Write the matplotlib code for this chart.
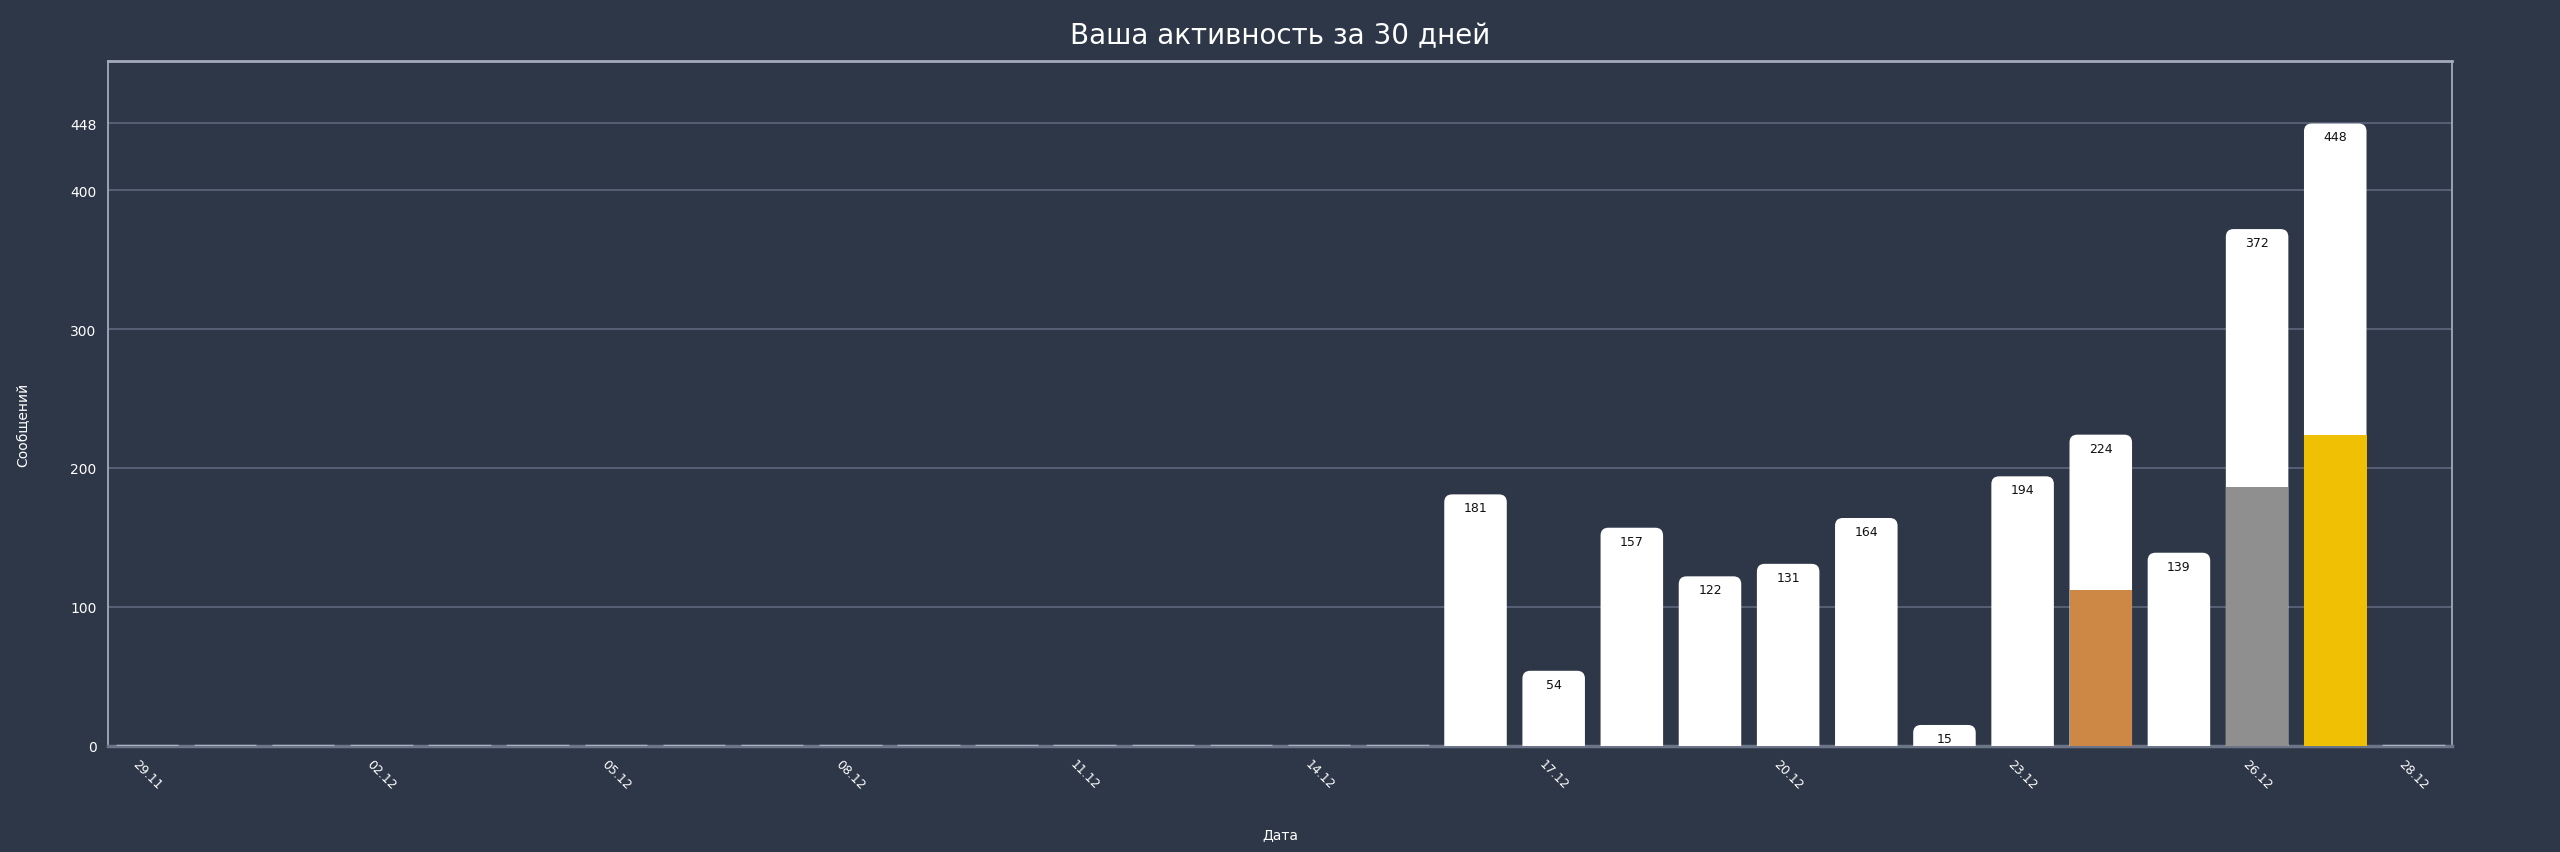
import matplotlib
matplotlib.use('Agg')
import matplotlib.pyplot as plt
from matplotlib.patches import FancyBboxPatch
import numpy as np

# Данные за 30 дней
dates = ['29.11', '30.11', '01.12', '02.12', '03.12', '04.12', '05.12', '06.12',
         '07.12', '08.12', '09.12', '10.12', '11.12', '12.12', '13.12', '14.12',
         '15.12', '16.12', '17.12', '18.12', '19.12', '20.12', '21.12', '22.12',
         '23.12', '24.12', '25.12', '26.12', '27.12', '28.12']
messages = [0, 0, 0, 0, 0, 0, 0, 0, 0, 0, 0, 0, 0, 0, 0, 0, 0,
            181, 54, 157, 122, 131, 164, 15, 194, 224, 139, 372, 448, 0]
tick_idx = [0, 3, 6, 9, 12, 15, 18, 21, 24, 27, 29]
yticks = [0, 100, 200, 300, 400, 448]

bg = '#2e3748'
frame = '#a3abbb'
grid_c = '#5d677b'
medal_colors = {1: '#efc004', 2: '#8f8f8f', 3: '#cc8844'}

fig = plt.figure(figsize=(25.6, 8.53), dpi=100, facecolor=bg)
ax = fig.add_axes([0.0421, 0.1245, 0.9159, 0.8025])
ax.set_facecolor(bg)

x = np.arange(len(messages))
vals = np.array(messages)
ymax = vals.max() * 1.1
width = 0.8

# места по количеству сообщений
order = np.argsort(-vals)
ranks = {int(order[i]): i + 1 for i in range(3)}

# пересчёт аспекта для скруглённых углов
aspect = ymax / (len(vals)) * (0.9159 * 25.6) / (0.8025 * 8.53)
r = 0.1

for i, v in zip(x, vals):
    if v == 0:
        ax.bar(i, 0, width, color='#a9b0bf', edgecolor='#a9b0bf', linewidth=2.5, zorder=3)
        continue
    patch = FancyBboxPatch((i - width / 2, -20), width, v + 20,
                           boxstyle=f'round,pad=0,rounding_size={r}',
                           mutation_aspect=aspect, facecolor='white',
                           edgecolor='none', zorder=3)
    ax.add_patch(patch)
    if i in ranks:
        ax.bar(i, v / 2, width, color=medal_colors[ranks[i]], zorder=4)
    ax.annotate(f'{v}', (i, v), xytext=(0, -5), textcoords='offset points',
                ha='center', va='top', fontsize=9, color='#111111', zorder=5)

ax.set_xlim(-0.5, len(vals) - 0.5)
ax.set_ylim(0, ymax)
ax.set_xticks([x[i] for i in tick_idx])
ax.set_xticklabels([dates[i] for i in tick_idx], rotation=-45, ha='center',
                   fontsize=9, color='white')
ax.set_yticks(yticks)
ax.set_yticklabels([str(t) for t in yticks], fontsize=10, color='white')
ax.tick_params(length=0, pad=8)
ax.grid(axis='y', color=grid_c, linewidth=1.2, zorder=0)
ax.set_axisbelow(True)

for side in ['top', 'left', 'right']:
    ax.spines[side].set_color(frame)
    ax.spines[side].set_linewidth(1.3)
ax.spines['top'].set_linewidth(2)
ax.spines['bottom'].set_color('#6c7487')
ax.spines['bottom'].set_linewidth(2.5)

ax.set_title('Ваша активность за 30 дней', fontsize=20, color='white', pad=13)
ax.set_xlabel('Дата', fontsize=10, color='white', labelpad=26)
ax.set_ylabel('Сообщений', fontsize=10, color='white')
ax.yaxis.set_label_coords(-0.033, 0.47)

fig.savefig('out.png', dpi=100, facecolor=bg)
